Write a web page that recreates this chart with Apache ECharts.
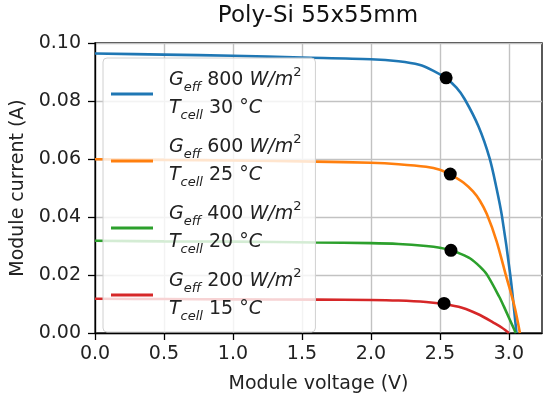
<!DOCTYPE html>
<html>
<head>
<meta charset="utf-8">
<script src="https://cdn.jsdelivr.net/npm/echarts@6/dist/echarts.min.js"></script>
<style>
  html, body { margin: 0; padding: 0; background: #fff; }
  #chart { width: 550px; height: 404px; }
</style>
</head>
<body>
<div id="chart"></div>
<script>
// IV curves
let irradiance = [800, 600, 400, 200];
let cellTemp = [30, 25, 20, 15];
let colors = ['#1f77b4', '#ff7f0e', '#2ca02c', '#d62728'];

let volt800 = [0, 0.5, 1.0, 1.5, 2.0, 2.2, 2.35, 2.45, 2.54, 2.62, 2.68, 2.78, 2.86, 2.91, 2.95, 3.01, 3.055];
let curr800 = [0.0964, 0.0960, 0.0956, 0.0950, 0.0944, 0.0937, 0.0925, 0.0905, 0.0880, 0.0846, 0.0806, 0.0712, 0.0603, 0.0500, 0.0402, 0.0200, 0.0];

let volt600 = [0, 0.5, 1.0, 1.6, 2.0, 2.2, 2.4, 2.5, 2.57, 2.67, 2.74, 2.79, 2.84, 2.91, 2.98, 3.04, 3.08];
let curr600 = [0.0599, 0.0597, 0.0595, 0.0591, 0.0587, 0.0582, 0.0573, 0.0563, 0.0548, 0.0519, 0.0488, 0.0456, 0.0410, 0.0318, 0.0196, 0.0093, 0.0];

let volt400 = [0, 0.5, 1.0, 1.6, 2.0, 2.2, 2.4, 2.5, 2.58, 2.65, 2.72, 2.79, 2.84, 2.93, 2.965, 3.05];
let curr400 = [0.0318, 0.0316, 0.0315, 0.0312, 0.0310, 0.0307, 0.0300, 0.0294, 0.0285, 0.0273, 0.0257, 0.0229, 0.0202, 0.0125, 0.0090, 0.0];

let volt200 = [0, 0.5, 1.0, 1.6, 2.0, 2.2, 2.4, 2.53, 2.66, 2.79, 2.89, 2.95, 3.0];
let curr200 = [0.0118, 0.0117, 0.0116, 0.0115, 0.0114, 0.0112, 0.0107, 0.0100, 0.0087, 0.0062, 0.0035, 0.0018, 0.0];

// maximum power points (black dots)
let mppVolt = [2.545, 2.575, 2.58, 2.53];
let mppCurr = [0.0880, 0.0548, 0.0285, 0.0102];

let xTicks = [0, 0.5, 1.0, 1.5, 2.0, 2.5, 3.0];

let volts = [volt800, volt600, volt400, volt200];
let currs = [curr800, curr600, curr400, curr200];

let font = 'DejaVu Sans';
let names = irradiance.map(g => 'G' + g);

let legendLabel = (name) => {
  let i = names.indexOf(name);
  return '{i|G}{sub|eff}{n| ' + irradiance[i] + ' }{i|W/m}{sup|2}\n' +
    '{i|T}{sub|cell}{n| ' + cellTemp[i] + ' °}{i|C}';
};

let series = names.map((name, k) => ({
  name: name,
  type: 'line',
  smooth: 0.3,
  symbol: 'none',
  data: volts[k].map((v, i) => [v, currs[k][i]]),
  lineStyle: { width: 2.6, color: colors[k] },
  itemStyle: { color: colors[k] },
  z: 2
}));
series.push({
  name: 'mpp',
  type: 'scatter',
  symbolSize: 13,
  data: mppVolt.map((v, i) => [v, mppCurr[i]]),
  itemStyle: { color: '#000', opacity: 1 },
  z: 3
});

let chart = echarts.init(document.getElementById('chart'));
chart.setOption({
  animation: false,
  title: {
    text: 'Poly-Si 55x55mm',
    left: 318,
    textAlign: 'center',
    top: 5,
    padding: 0,
    textStyle: { fontFamily: font, fontSize: 23, fontWeight: 'normal', color: '#111' }
  },
  grid: {
    left: 95, right: 8, top: 43, bottom: 71,
    show: true, borderColor: '#000', borderWidth: 1.3
  },
  legend: {
    data: names.map(n => ({ name: n, icon: 'rect' })),
    orient: 'vertical',
    left: 103,
    top: 58,
    padding: [8, 14, 9, 8],
    itemGap: 11,
    itemWidth: 42,
    itemHeight: 3,
    backgroundColor: 'rgba(255,255,255,0.8)',
    borderColor: '#d0d0d0',
    borderWidth: 1,
    borderRadius: 4,
    formatter: legendLabel,
    textStyle: {
      fontFamily: font,
      fontSize: 19,
      color: '#222',
      padding: [0, 0, 0, 11],
      rich: {
        n: { fontFamily: font, fontSize: 19, lineHeight: 28, color: '#222' },
        i: { fontFamily: font, fontSize: 19, fontStyle: 'italic', lineHeight: 28, color: '#222' },
        sub: { fontFamily: font, fontSize: 13, fontStyle: 'italic', lineHeight: 15, verticalAlign: 'bottom', color: '#222' },
        sup: { fontFamily: font, fontSize: 13, lineHeight: 16, verticalAlign: 'top', color: '#222' }
      }
    }
  },
  xAxis: {
    type: 'value',
    min: 0,
    max: 3.24,
    interval: 0.5,
    name: 'Module voltage (V)',
    nameLocation: 'middle',
    nameGap: 42,
    nameTextStyle: { fontFamily: font, fontSize: 19, color: '#222' },
    axisLine: { show: true, onZero: false, lineStyle: { color: '#000', width: 1.3 } },
    axisTick: { show: true, length: 7, customValues: xTicks, lineStyle: { color: '#000', width: 1.3 } },
    axisLabel: {
      margin: 12,
      customValues: xTicks,
      fontFamily: font, fontSize: 19, color: '#222',
      formatter: (v) => (Math.abs(v * 2 - Math.round(v * 2)) < 1e-6 ? v.toFixed(1) : '')
    },
    splitLine: { show: true, lineStyle: { color: '#c2c2c2', width: 1.4 } }
  },
  yAxis: {
    type: 'value',
    min: 0,
    max: 0.1,
    interval: 0.02,
    name: 'Module current (A)',
    nameLocation: 'middle',
    nameGap: 66,
    nameTextStyle: { fontFamily: font, fontSize: 19, color: '#222' },
    axisLine: { show: true, onZero: false, lineStyle: { color: '#000', width: 1.3 } },
    axisTick: { show: true, length: 7, lineStyle: { color: '#000', width: 1.3 } },
    axisLabel: {
      margin: 14,
      fontFamily: font, fontSize: 19, color: '#222',
      formatter: (v) => v.toFixed(2)
    },
    splitLine: { show: true, lineStyle: { color: '#c2c2c2', width: 1.4 } }
  },
  series: series
});
</script>
</body>
</html>
